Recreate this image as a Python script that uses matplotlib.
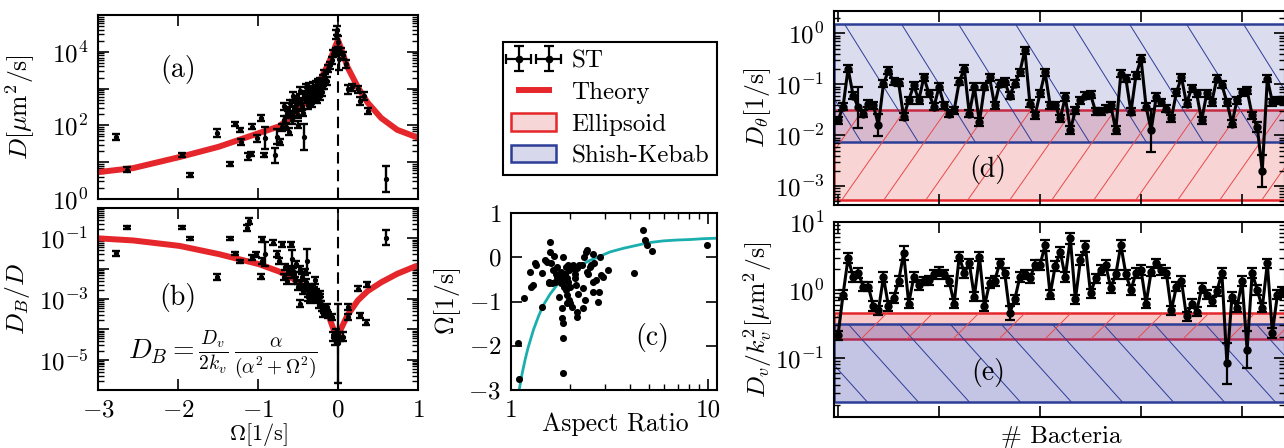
import numpy as np
import matplotlib
matplotlib.use("Agg")
import matplotlib.pyplot as plt
from matplotlib.patches import Patch
from matplotlib.lines import Line2D
from matplotlib.ticker import FixedLocator, NullFormatter, FuncFormatter, NullLocator, FixedFormatter

# ---------------- data ----------------
# panel (a): D vs Omega  (log10 values)
omega_a = [-2.78, -2.64, -1.95, -1.85, -1.51, -1.35, -1.29, -1.23, -1.21, -1.12, -1.09, -1.08, -1.01, -0.96,
           -0.93, -0.91, -0.79, -0.76, -0.72, -0.68, -0.67, -0.65, -0.62, -0.61, -0.58, -0.56, -0.55, -0.52,
           -0.50, -0.50, -0.48, -0.45, -0.43, -0.42, -0.40, -0.39, -0.37, -0.35, -0.33, -0.31, -0.29, -0.27,
           -0.25, -0.23, -0.21, -0.19, -0.17, -0.14, -0.12, -0.10, -0.08, -0.06, -0.03, -0.02, -0.01, 0.00,
           0.01, 0.04, 0.06, 0.10, 0.12, 0.17, 0.25, 0.27, 0.33, 0.37, 0.60,
           -0.53, -0.47, -0.44, -0.38, -0.36, -0.32, -0.30, -0.28, -0.26, -0.24, -0.22, -0.20, -0.18, -0.16,
           -0.64, -0.60, -0.57, -0.70]
logD_a = [1.69, 0.80, 1.19, 0.66, 1.79, 0.96, 2.04, 1.88, 1.56, 1.16, 1.22, 1.97, 1.65, 2.20,
          1.19, 1.65, 1.19, 1.69, 1.56, 2.15, 2.52, 1.97, 2.29, 1.83, 2.15, 2.80, 2.43, 2.71,
          2.02, 2.29, 2.94, 2.52, 1.69, 2.80, 3.03, 2.71, 2.94, 2.62, 2.85, 3.08, 2.75, 2.94,
          3.17, 2.80, 3.08, 3.26, 3.40, 3.21, 3.54, 3.63, 3.77, 3.95, 4.00, 4.46, 4.59, 4.27,
          3.81, 4.00, 3.90, 3.67, 2.98, 3.03, 2.98, 2.66, 2.80, 2.38, 0.54,
          2.55, 2.65, 2.35, 2.55, 3.05, 2.60, 2.90, 3.10, 2.70, 2.95, 3.20, 2.90, 3.10, 3.30,
          2.35, 2.60, 2.30, 1.95]
errD_a = [0.08, 0.07, 0.06, 0.06, 0.10, 0.05, 0.05, 0.06, 0.08, 0.10, 0.06, 0.08, 0.10, 0.07,
          0.06, 0.30, 0.20, 0.20, 0.08, 0.10, 0.10, 0.10, 0.10, 0.10, 0.10, 0.10, 0.10, 0.10,
          0.10, 0.10, 0.10, 0.10, 0.35, 0.10, 0.10, 0.10, 0.10, 0.10, 0.10, 0.10, 0.10, 0.10,
          0.10, 0.10, 0.10, 0.10, 0.10, 0.10, 0.10, 0.10, 0.10, 0.10, 0.10, 0.12, 0.12, 0.15,
          0.30, 0.10, 0.10, 0.10, 0.12, 0.10, 0.10, 0.10, 0.10, 0.08, 0.35,
          0.10, 0.10, 0.10, 0.10, 0.10, 0.10, 0.10, 0.10, 0.10, 0.10, 0.10, 0.10, 0.10, 0.10,
          0.10, 0.10, 0.10, 0.10]

# theory curve, panel (a)
omega_th_a = [-3.0, -2.56, -1.98, -1.49, -0.99, -0.74, -0.58, -0.41, -0.25, -0.12, -0.06, -0.03, 0.0,
              0.03, 0.06, 0.12, 0.25, 0.37, 0.54, 0.74, 0.97, 1.0]
logD_th_a = [0.73, 0.84, 1.14, 1.42, 1.79, 1.97, 2.23, 2.62, 3.12, 3.67, 3.99, 4.17, 4.32,
             4.14, 3.95, 3.58, 3.03, 2.62, 2.20, 1.88, 1.69, 1.67]

# panel (b): D_B/D vs Omega (log10 values)
omega_b = [-2.78, -2.64, -1.95, -1.85, -1.51, -1.35, -1.29, -1.23, -1.14, -1.11, -1.07, -1.03, -0.96, -0.95,
           -0.95, -0.91, -0.81, -0.76, -0.74, -0.70, -0.68, -0.66, -0.62, -0.59, -0.58, -0.56, -0.54, -0.52,
           -0.50, -0.48, -0.48, -0.45, -0.43, -0.41, -0.39, -0.37, -0.35, -0.33, -0.31, -0.29, -0.27, -0.25,
           -0.23, -0.21, -0.19, -0.17, -0.14, -0.12, -0.08, -0.06, -0.04, -0.02, 0.00, 0.02, 0.06, 0.12,
           0.12, 0.25, 0.27, 0.35, 0.36, 0.60,
           -0.47, -0.44, -0.40, -0.38, -0.36, -0.34, -0.30, -0.28, -0.26, -0.24, -0.22, -0.20, -0.16,
           -0.55, -0.60, -0.64]
logR_b = [-1.50, -0.63, -0.63, -1.00, -2.26, -1.00, -1.50, -1.76, -0.65, -0.43, -1.63, -1.52, -2.26, -1.74,
          -1.03, -1.52, -1.14, -1.52, -1.74, -1.20, -2.28, -1.96, -2.12, -1.20, -1.68, -2.07, -2.39, -1.85,
          -2.61, -2.01, -3.15, -2.28, -2.61, -2.12, -1.74, -2.83, -3.04, -2.66, -2.93, -2.39, -2.77, -3.04,
          -2.83, -3.15, -3.48, -3.37, -3.26, -3.53, -3.59, -4.24, -4.35, -4.13, -4.46, -4.24, -4.24, -3.59,
          -3.26, -2.66, -3.53, -3.78, -2.52, -0.98,
          -2.50, -2.75, -2.45, -2.95, -2.60, -2.85, -2.70, -3.00, -2.90, -3.20, -2.95, -3.30, -3.40,
          -2.20, -2.00, -2.40]
errR_b = [0.07, 0.05, 0.05, 0.06, 0.10, 0.05, 0.05, 0.06, 0.10, 0.10, 0.08, 0.08, 0.08, 0.10,
          0.08, 0.40, 0.08, 0.10, 0.10, 0.08, 0.10, 0.10, 0.10, 0.08, 0.30, 0.10, 0.10, 0.10,
          0.10, 0.10, 0.12, 0.10, 0.10, 0.10, 0.40, 0.10, 0.10, 0.10, 0.10, 0.10, 0.10, 0.10,
          0.10, 0.10, 0.10, 0.10, 0.10, 0.10, 0.10, 0.15, 0.15, 0.15, 1.30, 0.15, 0.15, 0.10,
          0.10, 0.08, 0.08, 0.08, 0.08, 0.25,
          0.10, 0.10, 0.10, 0.10, 0.10, 0.10, 0.10, 0.10, 0.10, 0.10, 0.10, 0.10, 0.10,
          0.10, 0.10, 0.10]

omega_th_b = [-3.0, -2.56, -1.98, -1.49, -0.99, -0.74, -0.58, -0.41, -0.25, -0.12, -0.06, -0.02, 0.01,
              0.06, 0.12, 0.25, 0.37, 0.54, 0.74, 0.97, 1.0]
logR_th_b = [-1.00, -1.07, -1.25, -1.52, -1.85, -2.09, -2.30, -2.63, -3.04, -3.53, -3.97, -4.22, -4.13,
             -3.86, -3.53, -3.04, -2.74, -2.45, -2.17, -1.92, -1.90]

# panel (c): Omega vs aspect ratio
aspect_c = [1.10, 1.09, 1.17, 1.25, 1.27, 1.29, 1.32, 1.34, 1.43, 1.43, 1.49, 1.52, 1.55, 1.55, 1.58, 1.58,
            1.59, 1.61, 1.64, 1.65, 1.67, 1.69, 1.71, 1.72, 1.74, 1.76, 1.77, 1.79, 1.79, 1.81, 1.82, 1.83,
            1.83, 1.84, 1.84, 1.86, 1.87, 1.88, 1.90, 1.90, 1.92, 1.92, 1.93, 1.95, 1.95, 1.98, 1.98, 1.99,
            1.99, 2.01, 2.03, 2.06, 2.07, 2.11, 2.11, 2.14, 2.15, 2.15, 2.17, 2.20, 2.22, 2.28, 2.31, 2.33,
            2.35, 2.37, 2.40, 2.42, 2.44, 2.47, 2.52, 2.54, 2.60, 2.60, 2.62, 2.64, 2.70, 2.77, 2.81, 2.83,
            2.85, 2.92, 3.12, 4.21, 4.70, 4.79, 4.92, 5.18, 9.84]
omega_c = [-2.76, -1.94, -0.91, -0.33, -0.67, -0.63, -0.13, -0.18, -0.35, -1.12, -0.07, -0.10, -0.58, -0.55,
           0.34, 0.12, -0.14, -0.59, -0.29, 0.02, -0.55, -0.37, -0.44, -0.22, -0.40, -0.89, -0.48, -0.58,
           -0.33, -1.38, -1.15, -1.49, -1.83, -2.61, 0.01, -0.67, -0.52, -0.37, -0.22, -0.74, -0.48, -1.04,
           -0.85, -0.18, -0.55, -0.29, -0.97, -0.67, -1.04, -0.22, -1.12, -0.25, -0.18, -0.37, -0.48, -0.63,
           -1.23, -1.34, -0.25, -0.82, -0.18, -0.18, -1.15, -0.70, 0.01, -0.97, 0.12, 0.16, -0.33, -0.37,
           -0.22, -0.18, 0.08, -0.78, -0.55, -0.14, -0.52, -1.00, -0.78, 0.01, -0.40, -0.44, -0.29, -0.35,
           0.61, 0.40, 0.27, 0.14, 0.28]
aspect_fit = [1.10, 1.14, 1.18, 1.22, 1.30, 1.38, 1.46, 1.58, 1.71, 1.85, 1.99, 2.25, 2.52, 2.85, 3.18,
              3.7, 4.35, 5.0, 5.94, 7.0, 8.1, 9.5, 11.1]
omega_fit = [-3.0, -2.62, -2.31, -2.05, -1.64, -1.33, -1.08, -0.83, -0.63, -0.47, -0.33, -0.18, -0.07,
             0.03, 0.12, 0.20, 0.27, 0.33, 0.37, 0.39, 0.40, 0.42, 0.43]

# panel (d): D_theta per bacterium (log10 values)
logDtheta = [-1.71, -1.44, -0.69, -1.22, -1.45, -1.58, -1.38, -1.41, -1.80, -0.99, -0.73, -0.95, -0.97,
             -1.64, -1.31, -1.02, -1.31, -0.86, -1.18, -1.44, -1.05, -1.41, -1.58, -1.51, -0.95, -0.69,
             -1.58, -1.05, -1.74, -1.05, -0.86, -1.41, -0.99, -0.95, -1.22, -0.99, -0.76, -0.33, -1.38,
             -1.61, -1.18, -0.76, -1.41, -1.41, -1.67, -1.25, -1.90, -1.51, -1.31, -1.22, -1.20, -1.53,
             -1.53, -1.48, -1.41, -1.90, -0.79, -0.89, -1.54, -0.82, -0.50, -1.44, -1.90, -1.25, -1.35,
             -1.48, -1.67, -1.16, -0.86, -1.38, -1.08, -1.18, -1.71, -1.18, -1.35, -0.89, -1.01, -1.35,
             -1.77, -1.31, -1.16, -1.12, -1.61, -1.84, -2.70, -0.89, -1.35, -1.31, -1.31]
errDtheta = [0.07, 0.07, 0.07, 0.07, 0.40, 0.07, 0.07, 0.07, 0.22, 0.07, 0.07, 0.07, 0.07,
             0.07, 0.07, 0.07, 0.07, 0.07, 0.07, 0.07, 0.07, 0.07, 0.07, 0.07, 0.07, 0.07,
             0.07, 0.07, 0.08, 0.07, 0.07, 0.07, 0.07, 0.07, 0.07, 0.07, 0.07, 0.07, 0.07,
             0.07, 0.07, 0.07, 0.07, 0.07, 0.07, 0.07, 0.08, 0.07, 0.07, 0.07, 0.07, 0.07,
             0.07, 0.07, 0.07, 0.08, 0.07, 0.07, 0.07, 0.07, 0.07, 0.07, 0.42, 0.07, 0.07,
             0.07, 0.07, 0.07, 0.07, 0.07, 0.07, 0.07, 0.07, 0.07, 0.07, 0.07, 0.07, 0.07,
             0.07, 0.07, 0.07, 0.07, 0.07, 0.10, 0.32, 0.07, 0.07, 0.07, 0.07]

# panel (e): D_v/k_v^2 per bacterium (log10 values)
logDv = [-0.67, -0.07, 0.47, 0.19, 0.25, 0.05, 0.05, -0.24, -0.30, 0.19, -0.24, -0.12, 0.13, 0.54,
         -0.20, 0.19, 0.07, 0.13, 0.14, 0.23, 0.27, 0.23, 0.13, -0.20, 0.49, 0.25, 0.39, -0.10,
         0.49, -0.24, 0.10, 0.13, 0.39, 0.25, -0.34, -0.14, 0.19, 0.23, 0.17, 0.37, 0.37, 0.66,
         -0.07, 0.35, 0.56, 0.19, 0.76, -0.14, 0.44, 0.64, -0.05, 0.17, 0.29, 0.37, 0.03, 0.23,
         0.66, 0.23, 0.00, 0.25, 0.29, -0.20, 0.27, 0.39, 0.29, 0.25, -0.30, 0.05, 0.13, -0.39,
         -0.20, -0.32, 0.03, -0.07, -0.17, -0.02, 0.25, -1.08, -0.10, -0.26, 0.13, -0.88, 0.25,
         0.00, -0.26, 0.39, -0.63, -0.07, -0.02]
errDv = [0.06, 0.07, 0.07, 0.07, 0.07, 0.06, 0.06, 0.07, 0.07, 0.07, 0.07, 0.07, 0.07, 0.10,
         0.07, 0.07, 0.07, 0.06, 0.07, 0.07, 0.07, 0.07, 0.07, 0.07, 0.07, 0.07, 0.07, 0.07,
         0.07, 0.07, 0.07, 0.07, 0.07, 0.07, 0.10, 0.07, 0.07, 0.07, 0.07, 0.07, 0.07, 0.08,
         0.07, 0.07, 0.07, 0.07, 0.08, 0.07, 0.08, 0.08, 0.07, 0.07, 0.07, 0.07, 0.07, 0.07,
         0.08, 0.07, 0.07, 0.07, 0.07, 0.07, 0.07, 0.07, 0.07, 0.07, 0.07, 0.07, 0.07, 0.07,
         0.07, 0.07, 0.07, 0.07, 0.07, 0.07, 0.07, 0.30, 0.07, 0.07, 0.07, 0.27, 0.07,
         0.07, 0.07, 0.07, 0.07, 0.07, 0.07]

# model ranges (bands)
ellipsoid_theta = [5.3e-4, 0.032]
kebab_theta = [0.0074, 1.55]
ellipsoid_v = [0.19, 0.46]
kebab_v = [0.0225, 0.32]

# ---------------- style ----------------
W, H = 1284, 448
FS = 18
plt.rcParams.update({
    'font.family': 'cmr10',
    'mathtext.fontset': 'cm',
    'axes.formatter.use_mathtext': True,
    'font.size': FS,
    'axes.linewidth': 1.5,
    'xtick.direction': 'in', 'ytick.direction': 'in',
    'xtick.top': True, 'ytick.right': True,
    'xtick.major.size': 8, 'ytick.major.size': 8,
    'xtick.minor.size': 4, 'ytick.minor.size': 4,
    'xtick.major.width': 1.2, 'ytick.major.width': 1.2,
    'xtick.minor.width': 1.0, 'ytick.minor.width': 1.0,
    'xtick.major.pad': 7, 'ytick.major.pad': 7,
    'xtick.labelsize': FS, 'ytick.labelsize': FS,
    'axes.labelsize': 18.5,
})

RED = '#e5262b'
BLUE = '#2c3d96'
CYAN = '#1aaeae'

fig = plt.figure(figsize=(W / 100, H / 100), dpi=100)


def px_axes(l, t, r, b):
    return fig.add_axes([l / W, 1 - b / H, (r - l) / W, (b - t) / H])


def log_err(vals, errs):
    v = 10 ** np.asarray(vals, float)
    e = np.asarray(errs, float)
    return v, np.vstack([v - v * 10 ** (-e), v * 10 ** e - v])


def log_axis(ax, lo, hi, show):
    ax.set_yscale('log')
    ax.set_ylim(10.0 ** lo, 10.0 ** hi)
    decs = np.arange(np.floor(lo) - 1, np.ceil(hi) + 2)
    ax.yaxis.set_major_locator(FixedLocator(10.0 ** decs))
    minors = [m * 10.0 ** d for d in decs for m in range(2, 10)]
    ax.yaxis.set_minor_locator(FixedLocator(minors))
    ax.yaxis.set_minor_formatter(NullFormatter())
    ax.yaxis.set_major_formatter(FuncFormatter(
        lambda v, p: (r'$10^{%d}$' % int(round(np.log10(v)))) if int(round(np.log10(v))) in show else ''))


def hatch_band(ax, y0, y1, color, spacing, angle, direction, phase, axw, axh, lw=0.7):
    band = ax.axhspan(y0, y1, facecolor='none', edgecolor='none', zorder=0)
    span = axh / np.tan(np.radians(angle))
    for c in np.arange(phase - 2 * span - spacing * 2, axw + 2 * span + spacing * 2, spacing):
        if direction == '/':
            xs = np.array([c, c + span])
        else:
            xs = np.array([c, c - span])
        ln, = ax.plot(xs / axw, [0, 1], transform=ax.transAxes, color=color, lw=lw, zorder=0.6)
        ln.set_clip_path(band)


def px_text(x, y, s, **kw):
    fig.text(x / W, 1 - y / H, s, ha='center', va='center', **kw)


# ---------------- panel (a) ----------------
ax_a = px_axes(98, 15, 418, 199)
ax_a.plot(omega_th_a, 10 ** np.array(logD_th_a), color=RED, lw=4.3, zorder=2, solid_capstyle='butt')
v, e = log_err(logD_a, errD_a)
ax_a.errorbar(omega_a, v, yerr=e, fmt='o', color='k', ms=2.8, elinewidth=1.7, capsize=2.8, capthick=1.7, zorder=3)
ax_a.axvline(0, color='k', lw=1.5, ls=(0, (5.5, 3)), zorder=2.5)
ax_a.set_xlim(-3, 1)
ax_a.set_xticks([-3, -2, -1, 0, 1])
ax_a.tick_params(axis='x', labelbottom=False)
log_axis(ax_a, 0, 5, {0, 2, 4})
ax_a.set_ylabel(r'$D[\mu\mathrm{m}^2/\mathrm{s}]$')
ax_a.yaxis.set_label_coords(-0.19, 0.5)
px_text(178, 70, '(a)', fontsize=20)

# ---------------- panel (b) ----------------
ax_b = px_axes(98, 208, 418, 390)
ax_b.plot(omega_th_b, 10 ** np.array(logR_th_b), color=RED, lw=4.3, zorder=2, solid_capstyle='butt')
v, e = log_err(logR_b, errR_b)
ax_b.errorbar(omega_b, v, yerr=e, fmt='o', color='k', ms=2.8, elinewidth=1.7, capsize=2.8, capthick=1.7, zorder=3)
ax_b.axvline(0, color='k', lw=1.5, ls=(0, (5.5, 3)), zorder=2.5)
ax_b.set_xlim(-3, 1)
ax_b.set_xticks([-3, -2, -1, 0, 1])
log_axis(ax_b, -6, 0, {-1, -3, -5})
ax_b.set_ylabel(r'$D_B/D$')
ax_b.yaxis.set_label_coords(-0.205, 0.5)
ax_b.set_xlabel(r'$\Omega[1/\mathrm{s}]$', fontsize=16)
ax_b.xaxis.set_label_coords(0.5, -0.172)
px_text(178, 298, '(b)', fontsize=20)
px_text(223, 355, r'$D_B = \frac{D_v}{2k_v}\,\frac{\alpha}{(\alpha^2+\Omega^2)}$', fontsize=20)

# ---------------- panel (c) ----------------
ax_c = px_axes(511, 213, 717, 390)
st_handle = ax_c.errorbar([np.nan], [np.nan], xerr=[1.0], yerr=[1.0], fmt='o', color='k', ms=4.5,
                          elinewidth=1.6, capsize=3.8, capthick=1.6)
ax_c.plot(aspect_fit, omega_fit, color=CYAN, lw=2.0, zorder=2)
ax_c.scatter(aspect_c, omega_c, s=26, color='k', zorder=3, linewidths=0)
ax_c.set_xscale('log')
ax_c.set_xlim(1, 11.1)
ax_c.set_ylim(-3, 1)
ax_c.xaxis.set_major_locator(FixedLocator([1, 10]))
ax_c.xaxis.set_major_formatter(FixedFormatter(['1', '10']))
ax_c.xaxis.set_minor_locator(FixedLocator([2, 3, 4, 5, 6, 7, 8, 9]))
ax_c.xaxis.set_minor_formatter(NullFormatter())
ax_c.set_yticks([-3, -2, -1, 0, 1])
ax_c.set_ylabel(r'$\Omega[1/\mathrm{s}]$')
ax_c.yaxis.set_label_coords(-0.233, 0.5)
ax_c.set_xlabel('Aspect Ratio')
ax_c.xaxis.set_label_coords(0.505, -0.125)
px_text(652, 337, '(c)', fontsize=20)

# ---------------- panel (d) ----------------
idx = np.arange(len(logDtheta))
ax_d = px_axes(834, 11, 1285, 205)
ax_d.axhspan(*ellipsoid_theta, facecolor=(0.90, 0.24, 0.24, 0.22), edgecolor=RED, lw=1.8, zorder=0.5)
ax_d.axhspan(*kebab_theta, facecolor=(0.24, 0.24, 0.67, 0.18), edgecolor=BLUE, lw=1.8, zorder=0.55)
hatch_band(ax_d, *kebab_theta, color=BLUE, spacing=57, angle=58, direction='\\', phase=24, axw=451, axh=194)
hatch_band(ax_d, *ellipsoid_theta, color='#e84a4a', spacing=42, angle=55, direction='/', phase=24, axw=451, axh=194)
v, e = log_err(logDtheta, errDtheta)
ax_d.errorbar(idx, v, yerr=e, fmt='o-', color='k', lw=2.2, ms=5, elinewidth=1.6, capsize=3.8,
              capthick=1.6, zorder=3)
ax_d.set_xlim(-0.79, 88.5)
ax_d.set_xticks([0, 20, 40, 60, 80])
ax_d.xaxis.set_minor_locator(NullLocator())
ax_d.tick_params(axis='x', labelbottom=False)
log_axis(ax_d, -3.37, 0.44, {0, -1, -2, -3})
ax_d.set_ylabel(r'$D_\theta[1/\mathrm{s}]$')
ax_d.yaxis.set_label_coords(-0.135, 0.5)
px_text(988, 170, '(d)', fontsize=20)

# ---------------- panel (e) ----------------
ax_e = px_axes(834, 222, 1285, 417)
ax_e.axhspan(*ellipsoid_v, facecolor=(0.90, 0.24, 0.24, 0.28), edgecolor=RED, lw=1.8, zorder=0.5)
ax_e.axhspan(*kebab_v, facecolor=(0.24, 0.24, 0.67, 0.30), edgecolor=BLUE, lw=1.8, zorder=0.55)
hatch_band(ax_e, *kebab_v, color=BLUE, spacing=51, angle=48, direction='\\', phase=41, axw=451, axh=195)
hatch_band(ax_e, *ellipsoid_v, color='#e84a4a', spacing=46, angle=45, direction='/', phase=17, axw=451, axh=195)
v, e = log_err(logDv, errDv)
ax_e.errorbar(idx, v, yerr=e, fmt='o-', color='k', lw=2.2, ms=5, elinewidth=1.6, capsize=3.8,
              capthick=1.6, zorder=3)
ax_e.set_xlim(-0.79, 88.5)
ax_e.set_xticks([0, 20, 40, 60, 80])
ax_e.xaxis.set_minor_locator(NullLocator())
ax_e.tick_params(axis='x', labelbottom=False)
log_axis(ax_e, -1.87, 1.0, {1, 0, -1})
ax_e.set_ylabel(r'$D_v/k_v^2[\mu\mathrm{m}^2/\mathrm{s}]$')
ax_e.yaxis.set_label_coords(-0.131, 0.5)
ax_e.set_xlabel('# Bacteria', fontsize=18)
ax_e.xaxis.set_label_coords(0.503, -0.045)
px_text(988, 372, '(e)', fontsize=20)

# ---------------- legend ----------------
handles = [st_handle,
           Line2D([], [], color=RED, lw=4.3),
           Patch(facecolor='#f6d6d6', edgecolor=RED, lw=1.8),
           Patch(facecolor='#d8d8ec', edgecolor=BLUE, lw=1.8)]
labels = ['ST', 'Theory', 'Ellipsoid', 'Shish-Kebab']
leg = fig.legend(handles, labels, loc='upper left', bbox_to_anchor=(503 / W, 1 - 42 / H),
                 bbox_transform=fig.transFigure, borderaxespad=0, fancybox=False, frameon=True,
                 edgecolor='k', framealpha=1, numpoints=2, handlelength=1.8, handletextpad=0.6,
                 borderpad=0.33, labelspacing=0.36, fontsize=FS)
leg.get_frame().set_linewidth(1.5)

fig.savefig('out.png', dpi=100)
